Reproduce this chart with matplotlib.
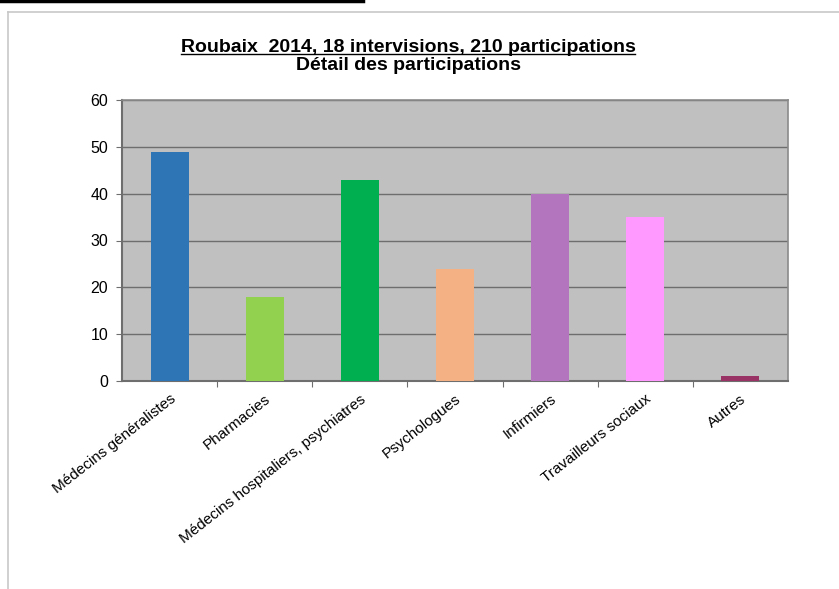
import matplotlib
matplotlib.use("Agg")
import matplotlib.pyplot as plt
from matplotlib.lines import Line2D

# Data
categories = ["Médecins généralistes", "Pharmacies", "Médecins hospitaliers, psychiatres",
              "Psychologues", "Infirmiers", "Travailleurs sociaux", "Autres"]
participations = [49, 18, 43, 24, 40, 35, 1]
bar_colors = ["#2E75B6", "#92D050", "#00B050", "#F4B183", "#B376BE", "#FF99FF", "#993366"]
yticks = [0, 10, 20, 30, 40, 50, 60]

plt.rcParams["font.family"] = ["Liberation Sans", "DejaVu Sans"]

W, H = 839, 589
fig = plt.figure(figsize=(W / 100, H / 100), dpi=100)
ax = fig.add_axes([122 / W, 1 - 381 / H, (788 - 122) / W, (381 - 100) / H])

x = list(range(len(categories)))
ax.set_facecolor("#C0C0C0")
ax.bar(x, participations, width=0.4, color=bar_colors, zorder=3)

ax.set_xlim(-0.5, len(categories) - 0.5)
ax.set_ylim(0, 60)
ax.set_yticks(yticks)
ax.yaxis.grid(True, color="#6E6E6E", linewidth=1, zorder=1)
ax.tick_params(axis="y", labelsize=11.5, length=4, color="#6E6E6E", direction="out", pad=6)

# category ticks sit between bars
ax.set_xticks([i + 0.5 for i in x[:-1]], minor=False)
ax.set_xticklabels([])
ax.set_xticks(x, minor=True)
ax.set_xticklabels(categories, minor=True, rotation=38, ha="right", rotation_mode="anchor", fontsize=11)
ax.tick_params(axis="x", which="minor", length=0, pad=8)
ax.tick_params(axis="x", which="major", length=4, color="#6E6E6E")

for side in ["left", "bottom"]:
    ax.spines[side].set_color("#6E6E6E")
    ax.spines[side].set_linewidth(1.5)
for side in ["top", "right"]:
    ax.spines[side].set_color("#8A8A8A")
    ax.spines[side].set_linewidth(1.2)

# titles
t1 = fig.text(408 / W, 1 - 47 / H, "Roubaix  2014, 18 intervisions, 210 participations",
              ha="center", va="center", fontsize=14, fontweight="bold")
fig.text(408 / W, 1 - 65 / H, "Détail des participations",
         ha="center", va="center", fontsize=14, fontweight="bold")
fig.canvas.draw()
bb = t1.get_window_extent().transformed(fig.transFigure.inverted())
fig.add_artist(Line2D([bb.x0, bb.x1], [bb.y0 + 0.002, bb.y0 + 0.002], color="black", linewidth=1,
                      transform=fig.transFigure))

# page frame bits
fig.add_artist(Line2D([0, 363 / W], [1 - 1 / H, 1 - 1 / H], color="black", linewidth=2.5,
                      transform=fig.transFigure))
fig.add_artist(Line2D([8 / W, 1], [1 - 12 / H, 1 - 12 / H], color="#C8C8C8", linewidth=1.2,
                      transform=fig.transFigure))
fig.add_artist(Line2D([8 / W, 8 / W], [0, 1 - 12 / H], color="#C8C8C8", linewidth=1.2,
                      transform=fig.transFigure))

fig.savefig("out.png", dpi=100)
